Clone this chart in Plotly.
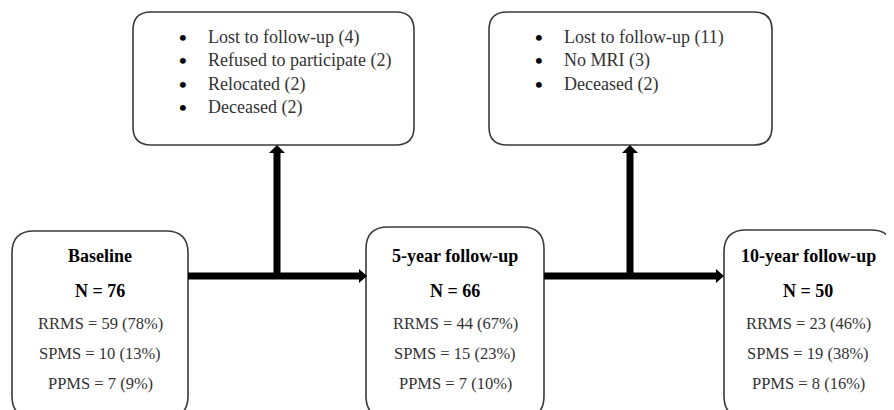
import plotly.graph_objects as go

# ---- data ----
stages = ["Baseline", "5-year follow-up", "10-year follow-up"]
stage_n = [76, 66, 50]
subtypes = ["RRMS", "SPMS", "PPMS"]
rrms_counts = [59, 44, 23]
rrms_pct = [78, 67, 46]
spms_counts = [10, 15, 19]
spms_pct = [13, 23, 38]
ppms_counts = [7, 7, 8]
ppms_pct = [9, 10, 16]
exclusions_1 = ["Lost to follow-up (4)", "Refused to participate (2)", "Relocated (2)", "Deceased (2)"]
exclusions_2 = ["Lost to follow-up (11)", "No MRI (3)", "Deceased (2)"]

W, H = 894, 410
OFF = 8  # page body margin
FONT = "Times New Roman, Liberation Serif, DejaVu Serif, serif"

fig = go.Figure()
shapes = []
annotations = []


def rrect(x0, y0, x1, y1, r):
    return (f"M {x0+r},{y0} L {x1-r},{y0} Q {x1},{y0} {x1},{y0+r} "
            f"L {x1},{y1-r} Q {x1},{y1} {x1-r},{y1} L {x0+r},{y1} "
            f"Q {x0},{y1} {x0},{y1-r} L {x0},{y0+r} Q {x0},{y0} {x0+r},{y0} Z")


# stage boxes (layout)
stage_boxes = [(12, 231, 188, 418), (366, 227, 544, 418), (724, 230, 893, 418)]
for (x0, y0, x1, y1) in stage_boxes:
    shapes.append(dict(type="path", path=rrect(x0, y0, x1, y1, 22), xref="x", yref="y",
                       line=dict(color="#3a3a3a", width=1.6), fillcolor="white", layer="below"))

# exclusion boxes
excl_boxes = [(133, 12, 414, 145), (489, 12, 772, 145)]
for (x0, y0, x1, y1) in excl_boxes:
    shapes.append(dict(type="path", path=rrect(x0, y0, x1, y1, 18), xref="x", yref="y",
                       line=dict(color="#3a3a3a", width=1.6), fillcolor="white", layer="below"))

# arrows
AY = 276
arrow_segments = [(188, 360), (544, 717)]
branch_x = [277, 630]
for (xa, xb), bx in zip(arrow_segments, branch_x):
    shapes.append(dict(type="line", x0=xa, x1=xb, y0=AY, y1=AY, xref="x", yref="y",
                       line=dict(color="black", width=7)))
    shapes.append(dict(type="path", path=f"M {xb-1},{AY-7} L {xb+7},{AY} L {xb-1},{AY+7} Z",
                       xref="x", yref="y", line=dict(color="black", width=0), fillcolor="black"))
    shapes.append(dict(type="line", x0=bx, x1=bx, y0=AY + 3, y1=153, xref="x", yref="y",
                       line=dict(color="black", width=7)))
    shapes.append(dict(type="path", path=f"M {bx-8},{153} L {bx},{145} L {bx+8},{153} Z",
                       xref="x", yref="y", line=dict(color="black", width=0), fillcolor="black"))

# stage texts
centers = [100, 455, 808]
for i, cx in enumerate(centers):
    annotations.append(dict(x=cx, y=256, text=f"<b>{stages[i]}</b>", showarrow=False,
                            font=dict(family=FONT, size=18, color="black"), xanchor="center", yanchor="middle"))
    annotations.append(dict(x=cx, y=291, text=f"<b>N = {stage_n[i]}</b>", showarrow=False,
                            font=dict(family=FONT, size=18, color="black"), xanchor="center", yanchor="middle"))
    rows = [(rrms_counts[i], rrms_pct[i]), (spms_counts[i], spms_pct[i]), (ppms_counts[i], ppms_pct[i])]
    for j, (c, p) in enumerate(rows):
        annotations.append(dict(x=cx, y=[323, 353, 383][j], text=f"{subtypes[j]} = {c} ({p}%)", showarrow=False,
                                font=dict(family=FONT, size=16.5, color="#333333"),
                                xanchor="center", yanchor="middle"))

# exclusion texts
for items, bx, tx in [(exclusions_1, 183, 206), (exclusions_2, 539, 562)]:
    for k, item in enumerate(items):
        yy = 37 + k * 23.5
        annotations.append(dict(x=bx, y=yy, text="<b>•</b>", showarrow=False,
                                font=dict(family=FONT, size=22, color="black"), xanchor="center", yanchor="middle"))
        annotations.append(dict(x=tx, y=yy, text=item, showarrow=False,
                                font=dict(family=FONT, size=18, color="#333333"), xanchor="left", yanchor="middle"))

fig.update_layout(
    width=W - OFF, height=H - OFF, margin=dict(l=0, r=0, t=0, b=0),
    paper_bgcolor="white", plot_bgcolor="white",
    xaxis=dict(range=[OFF, W], visible=False, fixedrange=True),
    yaxis=dict(range=[H, OFF], visible=False, fixedrange=True),
    shapes=shapes, annotations=annotations, showlegend=False,
)

fig.write_html("out.html", config={"displayModeBar": False})
